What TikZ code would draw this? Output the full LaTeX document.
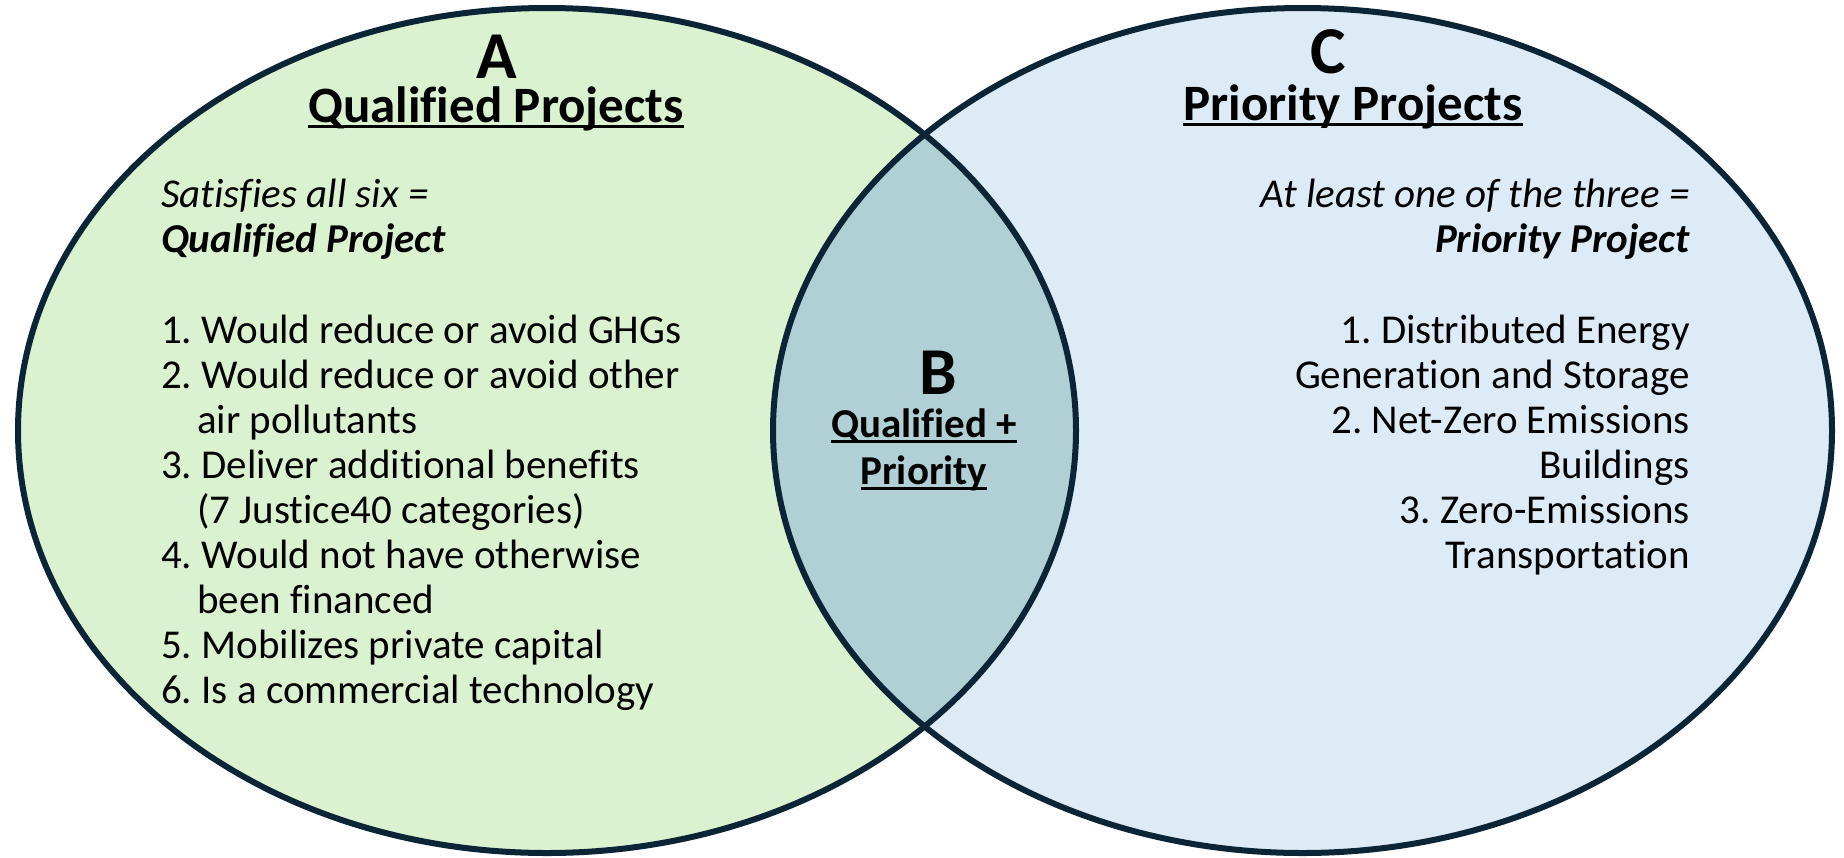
\documentclass[tikz,border=0pt]{standalone}
\usepackage{fontspec}
\setmainfont[Ligatures={NoCommon}]{Carlito}
\definecolor{gfill}{HTML}{DAF2D0}
\definecolor{bfill}{HTML}{DDEBF7}
\definecolor{ifill}{HTML}{B0D0D5}
\definecolor{outl}{HTML}{0C2536}
\newcommand\ulx[1]{\setbox0=\hbox{#1}\leavevmode\rlap{\vrule height -3pt depth 5.5pt width \wd0}\box0}
\tikzset{
  body/.style={font=\fontsize{41}{45}\selectfont, inner sep=0pt, text=black},
  head/.style={font=\bfseries\fontsize{51}{55}\selectfont, inner sep=0pt, text=black},
  mid/.style={font=\bfseries\fontsize{41}{45}\selectfont, inner sep=0pt, text=black},
  letter/.style={font=\bfseries\fontsize{67}{70}\selectfont, inner sep=0pt, text=black},
  outline/.style={draw=outl, line width=6pt},
}
\begin{document}
\begin{tikzpicture}[x=1pt,y=-1pt]
\useasboundingbox (0,0) rectangle (1844,857);
\fill[white] (0,0) rectangle (1844,857);
% fills
\fill[gfill] (547,430.5) ellipse [x radius=529pt, y radius=422.5pt];
\fill[bfill] (1302.5,430.5) ellipse [x radius=529.5pt, y radius=422.5pt];
\begin{scope}
  \clip (547,430.5) ellipse [x radius=529pt, y radius=422.5pt];
  \fill[ifill] (1302.5,430.5) ellipse [x radius=529.5pt, y radius=422.5pt];
\end{scope}
\draw[outline] (547,430.5) ellipse [x radius=529pt, y radius=422.5pt];
\draw[outline] (1302.5,430.5) ellipse [x radius=529.5pt, y radius=422.5pt];

% A side
\node[letter, anchor=base] (la) at (497,78) {A};
\node[head, anchor=base] (ta) at (496,122) {\ulx{Qualified Projects}};
\node[body, anchor=base west] (sa1) at (161,207) {\itshape Satisfies all six =};
\node[body, anchor=base west] (sa2) at (161,252) {\bfseries\itshape Qualified Project};
\node[body, anchor=base west] (a1) at (161,343) {1.\ Would reduce or avoid GHGs};
\node[body, anchor=base west] (a2) at (161,388) {2.\ Would reduce or avoid other};
\node[body, anchor=base west] (a2b) at (197,433) {air pollutants};
\node[body, anchor=base west] (a3) at (161,478) {3.\ Deliver additional benefits};
\node[body, anchor=base west] (a3b) at (197,523) {(7 Justice40 categories)};
\node[body, anchor=base west] (a4) at (161,568) {4.\ Would not have otherwise};
\node[body, anchor=base west] (a4b) at (197,613) {been financed};
\node[body, anchor=base west] (a5) at (161,658) {5.\ Mobilizes private capital};
\node[body, anchor=base west] (a6) at (161,703) {6.\ Is a commercial technology};

% B
\node[letter, anchor=base] (lb) at (938,394) {B};
\node[mid, anchor=base] (tb1) at (924,437) {\ulx{Qualified +}};
\node[mid, anchor=base] (tb2) at (924,484) {\ulx{Priority}};

% C side
\node[letter, anchor=base] (lc) at (1328,73) {C};
\node[head, anchor=base] (tc) at (1353,120) {\ulx{Priority Projects}};
\node[body, anchor=base east] (sc1) at (1690,207) {\itshape At least one of the three =};
\node[body, anchor=base east] (sc2) at (1690,252) {\bfseries\itshape Priority Project};
\node[body, anchor=base east] (c1) at (1690,343) {1.\ Distributed Energy};
\node[body, anchor=base east] (c1b) at (1690,388) {Generation and Storage};
\node[body, anchor=base east] (c2) at (1690,433) {2.\ Net-Zero Emissions};
\node[body, anchor=base east] (c2b) at (1690,478) {Buildings};
\node[body, anchor=base east] (c3) at (1690,523) {3.\ Zero-Emissions};
\node[body, anchor=base east] (c3b) at (1690,568) {Transportation};
\end{tikzpicture}
\end{document}
